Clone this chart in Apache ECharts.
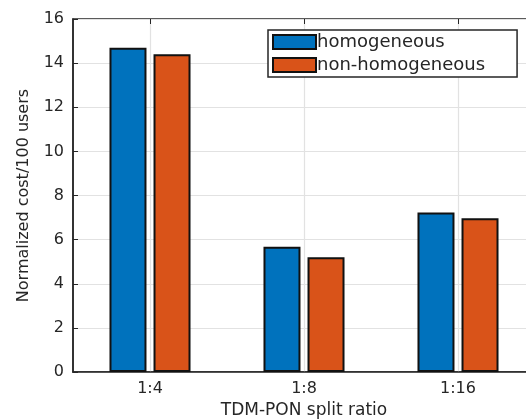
<!DOCTYPE html>
<html>
<head>
<meta charset="utf-8">
<script src="https://cdn.jsdelivr.net/npm/echarts@6/dist/echarts.min.js"></script>
<style>
  html, body { margin: 0; padding: 0; background: #fff; }
  #chart { width: 526px; height: 419px; }
</style>
</head>
<body>
<div id="chart"></div>
<script>
// split ratios on the x axis
const categories = ['1:4', '1:8', '1:16']
// normalized cost per 100 users
const homogeneous = [14.7, 5.68, 7.23]
const nonHomogeneous = [14.4, 5.2, 6.97]
const yTicks = { min: 0, max: 16, interval: 2 }
// category centres on a helper value axis (used only for the vertical grid lines)
const centreTicks = [0.5, 1.5, 2.5]

const font = 'DejaVu Sans'
const chart = echarts.init(document.getElementById('chart'))

chart.setOption({
  animation: false,
  textStyle: { fontFamily: font },
  grid: {
    left: 73, top: 19, width: 462, height: 353,
    outerBoundsMode: 'none',
    containLabel: false,
    show: true, borderColor: '#262626', borderWidth: 1.5
  },
  legend: {
    orient: 'vertical',
    left: 268, top: 30,
    icon: 'rect',
    itemWidth: 43, itemHeight: 14, itemGap: 5,
    padding: [3, 32, 3, 4],
    backgroundColor: '#fff',
    borderColor: '#262626', borderWidth: 1.5,
    textStyle: { fontFamily: font, fontSize: 18, color: '#262626', padding: [0, 0, 0, -4] },
    data: ['homogeneous', 'non-homogeneous']
  },
  xAxis: [{
    type: 'category',
    data: categories,
    name: 'TDM-PON split ratio',
    nameLocation: 'middle',
    nameGap: 30,
    nameTextStyle: { fontSize: 17, color: '#262626' },
    axisLine: { lineStyle: { color: '#262626', width: 1.5 } },
    axisTick: { inside: true, alignWithLabel: true, length: 5, lineStyle: { color: '#262626' } },
    axisLabel: { fontSize: 16, color: '#262626', margin: 9 },
    splitLine: { show: false }
  }, {
    type: 'value',
    position: 'top',
    min: 0, max: 3, interval: 1,
    axisLine: { show: false },
    axisTick: { show: true, inside: true, length: 5, customValues: centreTicks, lineStyle: { color: '#262626' } },
    axisLabel: { show: false },
    splitLine: { show: true, lineStyle: { color: '#e2e2e2', width: 1.2 } }
  }],
  yAxis: {
    type: 'value',
    min: yTicks.min, max: yTicks.max, interval: yTicks.interval,
    name: 'Normalized cost/100 users',
    nameLocation: 'middle',
    nameGap: 41,
    nameTextStyle: { fontSize: 16, color: '#262626' },
    axisLine: { show: true, lineStyle: { color: '#262626', width: 1.5 } },
    axisTick: { show: true, inside: true, length: 5, lineStyle: { color: '#262626' } },
    axisLabel: { fontSize: 16, color: '#262626', margin: 9 },
    splitLine: { lineStyle: { color: '#e2e2e2', width: 1.2 } }
  },
  series: [{
    name: 'homogeneous',
    type: 'bar',
    data: homogeneous,
    barWidth: 37,
    barGap: '19%',
    itemStyle: { color: '#0072BD', borderColor: '#111', borderWidth: 2 }
  }, {
    name: 'non-homogeneous',
    type: 'bar',
    data: nonHomogeneous,
    barWidth: 37,
    barGap: '19%',
    itemStyle: { color: '#D95319', borderColor: '#111', borderWidth: 2 }
  }]
})
</script>
</body>
</html>
